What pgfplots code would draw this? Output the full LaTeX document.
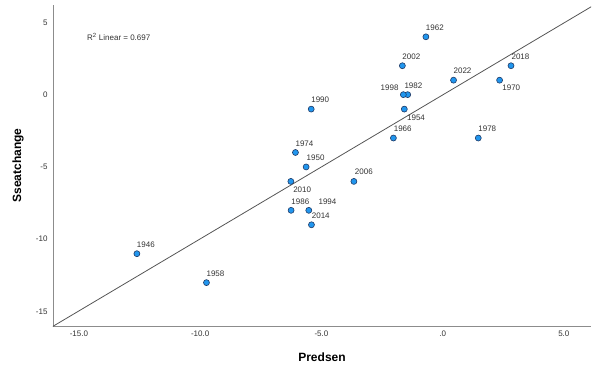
\documentclass[border=0pt]{standalone}
\usepackage{pgfplots}
\pgfplotsset{compat=1.18}
\usepackage{pgfplotstable}
\usepackage{fontspec}
\setmainfont{Liberation Sans}
\definecolor{ptfill}{HTML}{2196EE}
\definecolor{ptedge}{HTML}{1F3A66}
\definecolor{axgray}{HTML}{8C8C8C}
\definecolor{fitgray}{HTML}{555555}
\definecolor{txtgray}{HTML}{333333}

\pgfplotstableread{
x y dx dy lab
-12.61 -11 9 9 1946
-5.63 -5 9.5 9.3 1950
-1.58 -1 11.7 -8.3 1954
-9.74 -13 9 9.3 1958
-0.69 4 9 9.3 1962
-2.03 -3 9.3 9 1966
2.35 1 11.7 -7.7 1970
-6.07 -4 9 9 1974
1.47 -3 9 9 1978
-1.44 0 5.7 9 1982
-6.25 -8 9.3 8.7 1986
-5.42 -1 9 9 1990
-5.52 -8 18.7 8.7 1994
-1.62 0 -13.7 7.3 1998
-1.66 2 9 9 2002
-3.66 -6 10 9.3 2006
-6.26 -6 11.3 -8 2010
-5.41 -9 9.3 9 2014
2.82 2 9.5 9 2018
0.45 1 9 9 2022
}\datatable

\begin{document}
\begin{tikzpicture}
\path[use as bounding box] (-53pt,-49pt) rectangle (546pt,326pt);
\begin{axis}[
  scale only axis,
  width=538pt, height=321pt,
  at={(0,0)}, anchor=south west,
  xmin=-16.07, xmax=6.12,
  ymin=-16, ymax=6.2,
  axis lines*=left,
  axis line style={axgray, line width=0.8pt},
  major tick length=0pt,
  xtick={-15,-10,-5,0,5},
  xticklabels={-15.0,-10.0,-5.0,.0,5.0},
  ytick={-15,-10,-5,0,5},
  yticklabels={-15,-10,-5,0,5},
  tick label style={font=\fontsize{8}{9}\selectfont, text=txtgray},
  xticklabel style={yshift=-1.5pt},
  yticklabel style={xshift=-2pt},
  /pgf/number format/assume math mode=true,
  xlabel={Predsen},
  ylabel={Sseatchange},
  every axis x label/.style={at={(axis description cs:0.5,0)}, yshift=-31pt, anchor=center, font=\bfseries\fontsize{12}{14}\selectfont},
  every axis y label/.style={at={(axis description cs:0,0.5)}, xshift=-35pt, rotate=90, anchor=center, font=\bfseries\fontsize{12}{14}\selectfont},
  clip=true,
]
\addplot[fitgray, line width=0.8pt] coordinates {(-16.1,-16.05) (6.15,6.1)};
\addplot[
  only marks,
  mark=*,
  mark size=3pt,
  mark options={fill=ptfill, draw=ptedge, line width=0.6pt},
  point meta=explicit symbolic,
  visualization depends on={\thisrow{dx} \as \ldx},
  visualization depends on={\thisrow{dy} \as \ldy},
  nodes near coords,
  every node near coord/.append style={anchor=center, xshift=\ldx pt, yshift=\ldy pt, font=\fontsize{8}{9}\selectfont, text=txtgray, inner sep=0pt},
] table[x=x, y=y, meta=lab] {\datatable};
\node[anchor=west, font=\fontsize{8}{9}\selectfont, text=txtgray, inner sep=0pt] at (rel axis cs:0.063,0.90) {R\textsuperscript{2} Linear = 0.697};
\end{axis}
\end{tikzpicture}
\end{document}
